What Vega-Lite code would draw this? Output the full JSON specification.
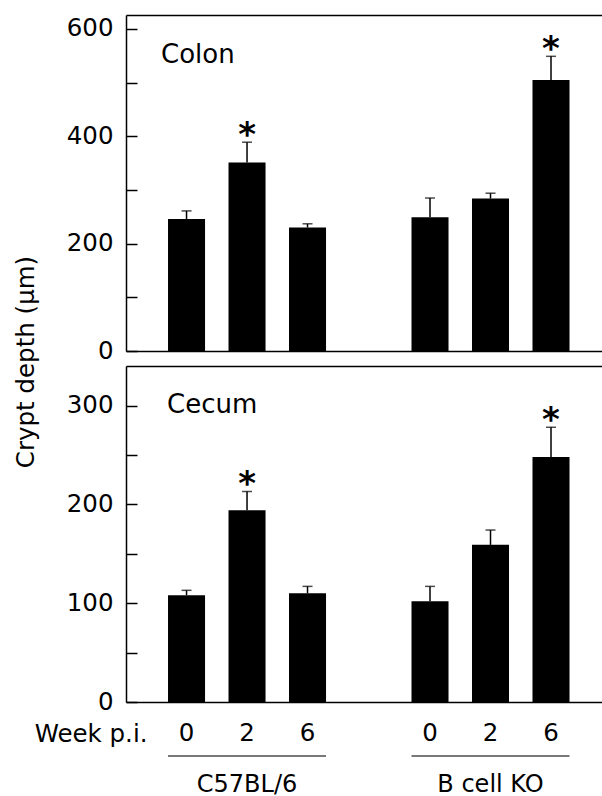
{
  "$schema": "https://vega.github.io/schema/vega-lite/v6.json",
  "background": "white",
  "padding": {"left": 13, "top": 15, "right": 0, "bottom": 0},
  "config": {
    "font": "DejaVu Sans",
    "view": {"stroke": null},
    "axis": {
      "grid": false,
      "domainColor": "#000",
      "domainWidth": 1.5,
      "tickColor": "#000",
      "tickWidth": 1.5,
      "labelColor": "#000",
      "labelFont": "DejaVu Sans",
      "labelFontSize": 24.5,
      "titleColor": "#000",
      "titleFont": "DejaVu Sans",
      "titleFontSize": 24.5,
      "titleFontWeight": "normal"
    },
    "text": {"font": "DejaVu Sans", "color": "#000"}
  },
  "datasets": {
    "crypt": [
      {"tissue": "Colon", "strain": "C57BL/6", "week": 0, "depth": 246, "upper": 261, "sig": false},
      {"tissue": "Colon", "strain": "C57BL/6", "week": 2, "depth": 351, "upper": 389, "sig": true},
      {"tissue": "Colon", "strain": "C57BL/6", "week": 6, "depth": 230, "upper": 237, "sig": false},
      {"tissue": "Colon", "strain": "B cell KO", "week": 0, "depth": 249, "upper": 285, "sig": false},
      {"tissue": "Colon", "strain": "B cell KO", "week": 2, "depth": 284, "upper": 294, "sig": false},
      {"tissue": "Colon", "strain": "B cell KO", "week": 6, "depth": 505, "upper": 549, "sig": true},
      {"tissue": "Cecum", "strain": "C57BL/6", "week": 0, "depth": 108, "upper": 113, "sig": false},
      {"tissue": "Cecum", "strain": "C57BL/6", "week": 2, "depth": 194, "upper": 213, "sig": true},
      {"tissue": "Cecum", "strain": "C57BL/6", "week": 6, "depth": 110, "upper": 117, "sig": false},
      {"tissue": "Cecum", "strain": "B cell KO", "week": 0, "depth": 102, "upper": 117, "sig": false},
      {"tissue": "Cecum", "strain": "B cell KO", "week": 2, "depth": 159, "upper": 174, "sig": false},
      {"tissue": "Cecum", "strain": "B cell KO", "week": 6, "depth": 248, "upper": 278, "sig": true}
    ]
  },
  "spacing": 15,
  "bounds": "flush",
  "resolve": {"scale": {"x": "independent", "y": "independent"}},
  "vconcat": [
    {
      "width": 476,
      "height": 336,
      "data": {"name": "crypt"},
      "transform": [{"filter": "datum.tissue === 'Colon'"}],
      "layer": [
        {
          "mark": {"type": "bar", "color": "#000"},
          "encoding": {
            "x": {"field": "strain", "type": "nominal", "sort": ["C57BL/6", "B cell KO"],
                  "scale": {"domain": ["C57BL/6", "B cell KO"], "paddingInner": 0.351, "paddingOuter": 0.153, "align": 0.564},
                  "axis": {"orient": "bottom", "title": null, "labels": false, "ticks": false}},
            "xOffset": {"field": "week", "type": "ordinal", "scale": {"paddingInner": 0.388, "paddingOuter": 0}},
            "y": {"field": "depth", "type": "quantitative",
                  "scale": {"domain": [0, 626], "nice": false, "zero": true},
                  "axis": {"values": [0, 100, 200, 300, 400, 500, 600],
                           "labelExpr": "datum.value % 200 === 0 ? datum.label : ''",
                           "tickSize": -11, "labelPadding": 24,
                           "title": "Crypt depth (μm)", "titleAngle": -90, "titleX": -93, "titleY": 346.5,
                           "titleAlign": "center", "titleBaseline": "alphabetic"}}
          }
        },
        {
          "mark": {"type": "rule", "color": "#000", "strokeWidth": 1.5},
          "encoding": {
            "x": {"field": "strain", "type": "nominal", "axis": {"orient": "top", "title": null, "labels": false, "ticks": false}},
            "xOffset": {"field": "week", "type": "ordinal"},
            "y": {"field": "depth", "type": "quantitative"},
            "y2": {"field": "upper"}
          }
        },
        {
          "mark": {"type": "tick", "color": "#000", "size": 10, "thickness": 1.5},
          "encoding": {
            "x": {"field": "strain", "type": "nominal", "axis": null},
            "xOffset": {"field": "week", "type": "ordinal"},
            "y": {"field": "upper", "type": "quantitative"}
          }
        },
        {
          "transform": [{"filter": "datum.sig"}],
          "mark": {"type": "text", "text": "*", "fontSize": 34, "fontWeight": "bold", "baseline": "alphabetic", "dy": 3.5},
          "encoding": {
            "x": {"field": "strain", "type": "nominal", "axis": null},
            "xOffset": {"field": "week", "type": "ordinal"},
            "y": {"field": "upper", "type": "quantitative"}
          }
        },
        {
          "transform": [{"filter": "datum.strain === 'C57BL/6' && datum.week === 0"}],
          "mark": {"type": "text", "fontSize": 26, "align": "left", "baseline": "alphabetic", "dx": -7},
          "encoding": {
            "x": {"datum": "C57BL/6", "type": "nominal", "bandPosition": 0, "axis": null},
            "y": {"datum": 536.6, "type": "quantitative"},
            "text": {"field": "tissue"}
          }
        }
      ],
      "resolve": {"axis": {"x": "independent"}}
    },
    {
      "width": 476,
      "height": 336,
      "data": {"name": "crypt"},
      "transform": [{"filter": "datum.tissue === 'Cecum'"}],
      "layer": [
        {
          "mark": {"type": "bar", "color": "#000"},
          "encoding": {
            "x": {"field": "strain", "type": "nominal", "sort": ["C57BL/6", "B cell KO"],
                  "scale": {"domain": ["C57BL/6", "B cell KO"], "paddingInner": 0.351, "paddingOuter": 0.153, "align": 0.564},
                  "axis": {"orient": "bottom", "title": null, "labels": false, "ticks": false}},
            "xOffset": {"field": "week", "type": "ordinal", "scale": {"paddingInner": 0.388, "paddingOuter": 0}},
            "y": {"field": "depth", "type": "quantitative",
                  "scale": {"domain": [0, 340], "nice": false, "zero": true},
                  "axis": {"values": [0, 50, 100, 150, 200, 250, 300],
                           "labelExpr": "datum.value % 100 === 0 ? datum.label : ''",
                           "tickSize": -11, "labelPadding": 24, "title": null}}
          }
        },
        {
          "mark": {"type": "rule", "color": "#000", "strokeWidth": 1.5},
          "encoding": {
            "x": {"field": "strain", "type": "nominal", "axis": {"orient": "top", "title": null, "labels": false, "ticks": false}},
            "xOffset": {"field": "week", "type": "ordinal"},
            "y": {"field": "depth", "type": "quantitative"},
            "y2": {"field": "upper"}
          }
        },
        {
          "mark": {"type": "tick", "color": "#000", "size": 10, "thickness": 1.5},
          "encoding": {
            "x": {"field": "strain", "type": "nominal", "axis": null},
            "xOffset": {"field": "week", "type": "ordinal"},
            "y": {"field": "upper", "type": "quantitative"}
          }
        },
        {
          "transform": [{"filter": "datum.sig"}],
          "mark": {"type": "text", "text": "*", "fontSize": 34, "fontWeight": "bold", "baseline": "alphabetic", "dy": 3.5},
          "encoding": {
            "x": {"field": "strain", "type": "nominal", "axis": null},
            "xOffset": {"field": "week", "type": "ordinal"},
            "y": {"field": "upper", "type": "quantitative"}
          }
        },
        {
          "transform": [{"filter": "datum.strain === 'C57BL/6' && datum.week === 0"}],
          "mark": {"type": "text", "fontSize": 26, "align": "left", "baseline": "alphabetic", "dx": -1},
          "encoding": {
            "x": {"datum": "C57BL/6", "type": "nominal", "bandPosition": 0, "axis": null},
            "y": {"datum": 292.4, "type": "quantitative"},
            "text": {"field": "tissue"}
          }
        }
      ],
      "resolve": {"axis": {"x": "independent"}}
    },
    {
      "width": 476,
      "height": 79,
      "data": {"name": "crypt"},
      "transform": [{"filter": "datum.tissue === 'Colon'"}],
      "layer": [
        {
          "mark": {"type": "text", "fontSize": 24.5, "baseline": "alphabetic"},
          "encoding": {
            "x": {"field": "strain", "type": "nominal", "sort": ["C57BL/6", "B cell KO"],
                  "scale": {"domain": ["C57BL/6", "B cell KO"], "paddingInner": 0.351, "paddingOuter": 0.153, "align": 0.564},
                  "axis": null},
            "xOffset": {"field": "week", "type": "ordinal", "scale": {"paddingInner": 0.388, "paddingOuter": 0}},
            "y": {"datum": 24, "type": "quantitative",
                  "scale": {"domain": [0, 79], "reverse": true, "nice": false, "zero": false},
                  "axis": {"title": "Week p.i.", "labels": false, "ticks": false, "domain": false,
                           "titleAngle": 0, "titleX": 21, "titleY": 24, "titleAlign": "right", "titleBaseline": "alphabetic"}},
            "text": {"field": "week", "type": "ordinal"}
          }
        },
        {
          "transform": [{"filter": "datum.week === 0"}],
          "mark": {"type": "tick", "color": "#000", "size": 158, "thickness": 1.5},
          "encoding": {
            "x": {"field": "strain", "type": "nominal", "axis": null},
            "y": {"datum": 39, "type": "quantitative"}
          }
        },
        {
          "transform": [{"filter": "datum.week === 0"}],
          "mark": {"type": "text", "fontSize": 24, "baseline": "alphabetic"},
          "encoding": {
            "x": {"field": "strain", "type": "nominal", "axis": null},
            "y": {"datum": 75, "type": "quantitative"},
            "text": {"field": "strain"}
          }
        }
      ]
    }
  ]
}
